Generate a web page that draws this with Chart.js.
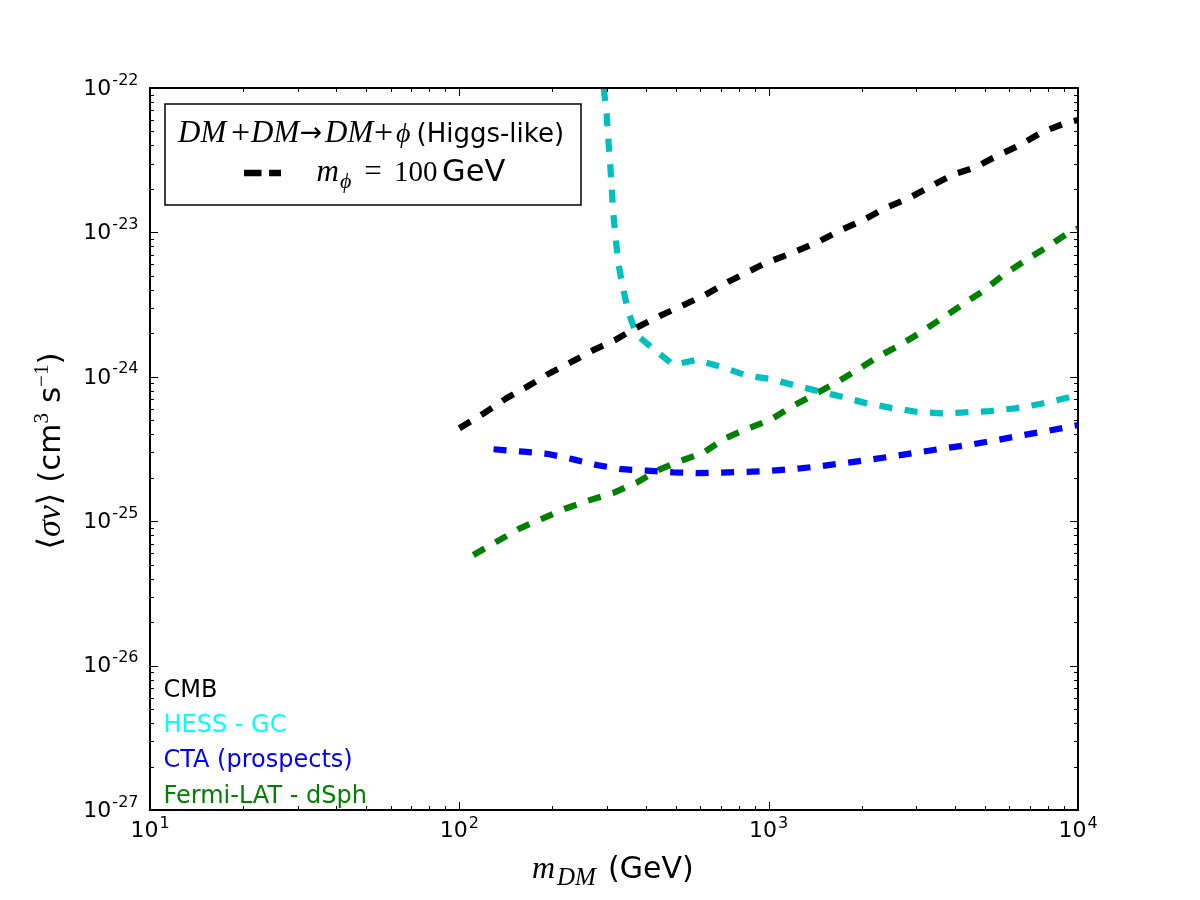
<!DOCTYPE html>
<html>
<head>
<meta charset="utf-8">
<script src="https://cdn.jsdelivr.net/npm/chart.js@4.4.1/dist/chart.umd.min.js"></script>
<style>
  body { margin: 0; background: #fff; }
</style>
</head>
<body>
<canvas id="myChart" width="1200" height="900"></canvas>
<script>
'use strict';
// values (GeV, cm^3 s^-1)
const cmbMass = [100, 121, 142, 167, 196, 231, 271, 319, 374, 445, 530, 622, 741, 973, 1217, 1447, 1701, 2023, 2377, 2828, 3323, 3954, 4645, 5460, 6494, 7630, 9077, 10000];
const cmbSigma = [4.4e-25, 5.64e-25, 7.1e-25, 8.63e-25, 1.06e-24, 1.27e-24, 1.53e-24, 1.80e-24, 2.19e-24, 2.64e-24, 3.14e-24, 3.68e-24, 4.56e-24, 6.1e-24, 7.35e-24, 8.62e-24, 1.03e-23, 1.22e-23, 1.47e-23, 1.72e-23, 2.07e-23, 2.52e-23, 2.82e-23, 3.38e-23, 4.03e-23, 4.93e-23, 5.70e-23, 6.0e-23];

const hessMass = [293, 299.5, 303, 307, 311, 314.6, 320.3, 326.6, 337.5, 351.6, 374.3, 429, 491.7, 585, 713, 849, 1010, 1201, 1446, 1722, 2074, 2485, 2993, 3606, 4313, 5195, 6253, 7534, 9077, 10000];
const hessSigma = [1e-22, 6.5e-23, 4.49e-23, 3.09e-23, 2.02e-23, 1.35e-23, 9.1e-24, 6.1e-24, 4.2e-24, 2.83e-24, 1.95e-24, 1.53e-24, 1.21e-24, 1.31e-24, 1.16e-24, 1.02e-24, 9.66e-25, 8.78e-25, 7.97e-25, 7.28e-25, 6.55e-25, 6.1e-25, 5.73e-25, 5.58e-25, 5.67e-25, 5.79e-25, 6.05e-25, 6.48e-25, 7.1e-25, 7.48e-25];

const ctaMass = [129, 161, 194, 234, 278, 335, 404, 492, 585, 705, 849, 1010, 1232, 1484, 1787, 2153, 2563, 3083, 3715, 4420, 5324, 6412, 7722, 9194, 10000];
const ctaSigma = [3.15e-25, 3.03e-25, 2.92e-25, 2.68e-25, 2.45e-25, 2.29e-25, 2.24e-25, 2.18e-25, 2.15e-25, 2.17e-25, 2.20e-25, 2.23e-25, 2.31e-25, 2.41e-25, 2.54e-25, 2.68e-25, 2.83e-25, 3.01e-25, 3.20e-25, 3.37e-25, 3.61e-25, 3.89e-25, 4.17e-25, 4.47e-25, 4.63e-25];

const fermiMass = [111, 132, 157, 187, 222, 264, 315, 374, 434, 517, 615, 722, 860, 1010, 1187, 1394, 1639, 1926, 2262, 2658, 3124, 3669, 4258, 4943, 5735, 6653, 7817, 9194, 10000];
const fermiSigma = [5.83e-26, 7.22e-26, 8.93e-26, 1.05e-25, 1.23e-25, 1.40e-25, 1.57e-25, 1.85e-25, 2.23e-25, 2.61e-25, 2.98e-25, 3.75e-25, 4.40e-25, 5.02e-25, 6.21e-25, 7.48e-25, 9.0e-25, 1.11e-24, 1.38e-24, 1.66e-24, 2.05e-24, 2.58e-24, 3.19e-24, 3.94e-24, 5.07e-24, 6.26e-24, 7.76e-24, 9.75e-24, 1.07e-23];

const seriesNames = ['CMB', 'HESS - GC', 'CTA (prospects)', 'Fermi-LAT - dSph'];
const lineColors = ['#000000', '#00bfbf', '#0000ff', '#008000'];
const textColors = ['#000000', '#00ffff', '#0000ff', '#008000'];

const xTicks = [10, 100, 1000, 10000];
const xTickExp = ['1', '2', '3', '4'];
const yTicks = [1e-27, 1e-26, 1e-25, 1e-24, 1e-23, 1e-22];
const yTickExp = ['-27', '-26', '-25', '-24', '-23', '-22'];

const SANS = '"DejaVu Sans"';
const SERIF = '"Liberation Serif", "DejaVu Serif"';

////////////////////////////////////////////////////

function pts(xs, ys) {
  return xs.map((x, i) => ({ x: x, y: ys[i] }));
}

const allSeries = [
  pts(cmbMass, cmbSigma),
  pts(hessMass, hessSigma),
  pts(ctaMass, ctaSigma),
  pts(fermiMass, fermiSigma)
];

const datasets = allSeries.map((d, i) => ({
  label: seriesNames[i],
  data: d,
  borderColor: lineColors[i],
  borderWidth: 6.25,
  borderDash: [13, 12.5],
  borderCapStyle: 'butt',
  pointRadius: 0,
  tension: 0,
  fill: false,
  clip: 0
}));

// pieces = [text, font, dy]
function richWidth(ctx, pieces) {
  let w = 0;
  for (const p of pieces) { ctx.font = p[1]; w += ctx.measureText(p[0]).width; }
  return w;
}
function drawRich(ctx, pieces, x, y, align) {
  let w = richWidth(ctx, pieces);
  let cx = align === 'center' ? x - w / 2 : x;
  ctx.textAlign = 'left';
  ctx.textBaseline = 'alphabetic';
  for (const p of pieces) {
    ctx.font = p[1];
    ctx.fillText(p[0], cx, y + (p[2] || 0));
    cx += ctx.measureText(p[0]).width;
  }
}
// one piece at a given left x (or centred on it)
function put(ctx, text, font, x, y, centre) {
  ctx.font = font;
  ctx.textBaseline = 'alphabetic';
  ctx.textAlign = centre ? 'center' : 'left';
  ctx.fillText(text, x, y);
}

function minorOf(majors) {
  let out = [];
  for (let i = 0; i < majors.length - 1; i++) {
    for (let k = 2; k <= 9; k++) out.push(majors[i] * k);
  }
  return out;
}

const framePlugin = {
  id: 'framePlugin',
  afterDraw(chart) {
    const ctx = chart.ctx;
    const a = chart.chartArea;
    const xs = chart.scales.x, ys = chart.scales.y;
    ctx.save();
    ctx.fillStyle = '#000';
    ctx.strokeStyle = '#000';
    ctx.lineWidth = 1;

    // ticks, inside, on all four sides
    const tickSet = (vals, len, horiz) => {
      ctx.beginPath();
      for (const v of vals) {
        if (horiz) {
          const px = Math.round(xs.getPixelForValue(v)) + 0.5;
          ctx.moveTo(px, a.bottom); ctx.lineTo(px, a.bottom - len);
          ctx.moveTo(px, a.top); ctx.lineTo(px, a.top + len);
        } else {
          const py = Math.round(ys.getPixelForValue(v)) + 0.5;
          ctx.moveTo(a.left, py); ctx.lineTo(a.left + len, py);
          ctx.moveTo(a.right, py); ctx.lineTo(a.right - len, py);
        }
      }
      ctx.stroke();
    };
    tickSet(xTicks, 8, true);
    tickSet(minorOf(xTicks), 4, true);
    tickSet(yTicks, 8, false);
    tickSet(minorOf(yTicks), 4, false);

    // frame
    ctx.lineWidth = 2;
    ctx.strokeRect(a.left, a.top, a.right - a.left, a.bottom - a.top);

    // tick labels
    const big = '22px ' + SANS, small = '16px ' + SANS;
    xTicks.forEach((v, i) => {
      const px = xs.getPixelForValue(v);
      ctx.font = big; const w1 = ctx.measureText('10').width;
      ctx.font = small; const w2 = ctx.measureText(xTickExp[i]).width;
      const x0 = px - (w1 + w2 + 1) / 2;
      put(ctx, '10', big, x0, a.bottom + 26.5);
      put(ctx, xTickExp[i], small, x0 + w1 + 1, a.bottom + 18);
    });
    yTicks.forEach((v, i) => {
      const py = ys.getPixelForValue(v);
      ctx.font = small; const w2 = ctx.measureText(yTickExp[i]).width;
      ctx.font = big; const w1 = ctx.measureText('10').width;
      const right = a.left - 11.5;
      put(ctx, yTickExp[i], small, right - w2, py - 3.5);
      put(ctx, '10', big, right - w2 - 1 - w1, py + 6.7);
    });

    // x title
    put(ctx, 'm', 'italic 32px ' + SERIF, 532, 878);
    put(ctx, 'DM', 'italic 25px ' + SERIF, 557, 885);
    put(ctx, '(GeV)', '30px ' + SANS, 608, 878);

    // y title
    ctx.save();
    ctx.translate(60, 451);
    ctx.rotate(-Math.PI / 2);
    drawRich(ctx, [
      ['\u27E8', '32px ' + SANS],
      ['\u03C3v', 'italic 34px ' + SERIF],
      ['\u27E9', '32px ' + SANS],
      [' (cm', '31px ' + SANS],
      ['3', '21px ' + SERIF, -12],
      [' s', '31px ' + SANS],
      ['\u22121', '21px ' + SERIF, -12],
      [')', '31px ' + SANS]
    ], 0, 0, 'center');
    ctx.restore();

    // legend box
    ctx.fillStyle = '#fff';
    ctx.fillRect(165, 104, 416, 101);
    ctx.lineWidth = 1.5;
    ctx.strokeStyle = '#000';
    ctx.strokeRect(165, 104, 416, 101);
    ctx.fillStyle = '#000';
    const mi = 'italic 31px ' + SERIF, mu = '34px ' + SERIF;
    put(ctx, 'DM', mi, 178, 142);
    put(ctx, '+', mu, 240.5, 143, true);
    put(ctx, 'DM', mi, 251, 142);
    put(ctx, '\u2192', '27px ' + SANS, 311, 141, true);
    put(ctx, 'DM', mi, 325, 142);
    put(ctx, '+', mu, 383.5, 143, true);
    put(ctx, '\u03D5', 'italic 28px ' + SERIF, 396, 142);
    put(ctx, '(Higgs-like)', '26px ' + SANS, 416.5, 142);

    ctx.save();
    ctx.strokeStyle = lineColors[0];
    ctx.lineWidth = 6.5;
    ctx.setLineDash([17.5, 7.5]);
    ctx.beginPath();
    ctx.moveTo(244, 173); ctx.lineTo(281, 173);
    ctx.stroke();
    ctx.restore();
    put(ctx, 'm', 'italic 31px ' + SERIF, 316.5, 181);
    put(ctx, '\u03D5', 'italic 22px ' + SERIF, 340, 188);
    put(ctx, '=', '31px ' + SERIF, 373, 181, true);
    put(ctx, '100', '29px ' + SERIF, 394, 181);
    put(ctx, 'GeV', '30.5px ' + SANS, 442, 181);

    // coloured series names in the lower left
    const baselines = [697.3, 731.7, 766.7, 802.5];
    seriesNames.forEach((n, i) => {
      ctx.fillStyle = textColors[i];
      put(ctx, n, '24px ' + SANS, 163.5, baselines[i]);
    });
    ctx.restore();
  }
};

const context = document.getElementById('myChart').getContext('2d');
const chart = new Chart(context, {
  type: 'line',
  data: { datasets: datasets },
  options: {
    responsive: false,
    animation: false,
    devicePixelRatio: 1,
    layout: { padding: { left: 0, right: 122, top: 88, bottom: 0 } },
    plugins: { legend: { display: false }, tooltip: { enabled: false } },
    scales: {
      x: {
        type: 'logarithmic', min: 10, max: 10000,
        grid: { display: false }, border: { display: false },
        ticks: { display: false },
        afterFit(s) { s.height = 90; }
      },
      y: {
        type: 'logarithmic', min: 1e-27, max: 1e-22,
        grid: { display: false }, border: { display: false },
        ticks: { display: false },
        afterFit(s) { s.width = 150; }
      }
    }
  },
  plugins: [framePlugin]
});
</script>
</body>
</html>
